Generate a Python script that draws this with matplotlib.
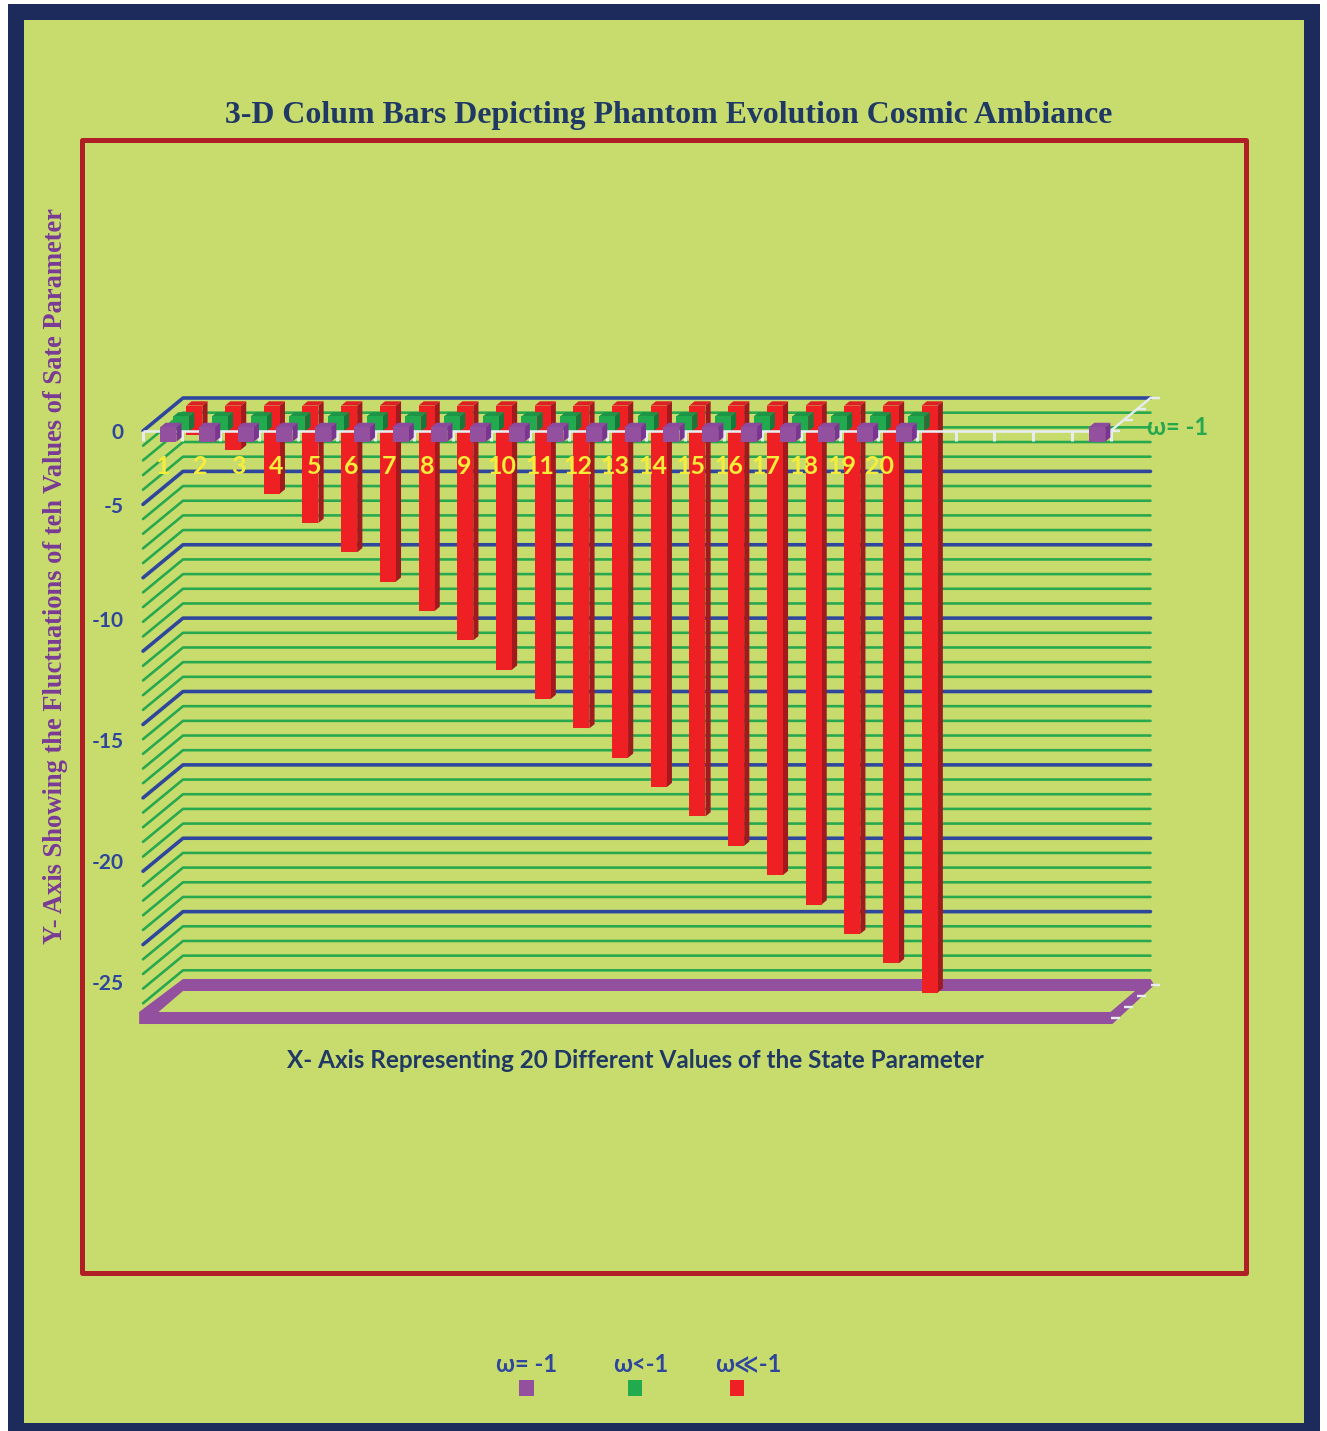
import matplotlib
matplotlib.use("Agg")
import matplotlib.pyplot as plt
from matplotlib.patches import Polygon, Rectangle

WIDTH, HEIGHT = 1327, 1431

# series values, one per category (None = no bar)
categories = list(range(1, 26))
purple_vals = [-1, -1, -1, -1, -1, -1, -1, -1, -1, -1,
               -1, -1, -1, -1, -1, -1, -1, -1, -1, -1,
               None, None, None, None, -1]
green_vals = [-1, -1, -1, -1, -1, -1, -1, -1, -1, -1,
              -1, -1, -1, -1, -1, -1, -1, -1, -1, -1,
              None, None, None, None, None]
red_vals = [-2, -3, -6, -8, -10, -12, -14, -16, -18, -20,
            -22, -24, -26, -28, -30, -32, -34, -36, -38, -40,
            None, None, None, None, None]

x_labels = [str(i) for i in range(1, 21)]
y_labels = ["0", "-5", "-10", "-15", "-20", "-25"]
y_label_px = [431, 505, 619, 740, 861, 982]
legend_names = ["\u03c9= -1", "\u03c9<-1", "\u03c9\u226a-1"]

BG = "#C8DC6E"
NAVY = "#1C2A5C"
FRAME_RED = "#B11F26"
TITLE_BLUE = "#1F3864"
BLUE = "#2E479C"
GREEN = "#27A84E"
WHITE = "#E6ECF0"
YELLOW = "#F6EC3A"
PURPLE_TXT = "#7A3A96"

PURPLE_C = ("#92509F", "#7A3590", "#8C4A9C")
GREEN_C = ("#21AB4E", "#16783A", "#1E9447")
RED_C = ("#EE2024", "#A01A1E", "#DD2024")

# pixel scale of the oblique projection
PX_PER_CAT = 38.7
PX_PER_UNIT = 14.675
ORIGIN_X, ORIGIN_Y = 143, 431
DEPTH_DX = 40 / PX_PER_CAT
DEPTH_DY = 33 / PX_PER_UNIT
BAR_W = 16 / PX_PER_CAT
BAR_D = 0.13
BAR_SHIFT = 1.2 / PX_PER_CAT
FLOOR = -40
N_CATS = 25


def proj(c, v, d=0.0):
    return c + d * DEPTH_DX, v + d * DEPTH_DY


def lw(px):
    return px * 72 / 100


def fx(px):
    return px / WIDTH


def fy(px):
    return 1 - px / HEIGHT


def draw_bar(ax, cat, val, depth, colors, z):
    front, side, top = colors
    c = cat - 0.5 + BAR_SHIFT
    l, r = c - BAR_W / 2, c + BAR_W / 2
    d2 = depth + BAR_D
    ax.add_patch(Polygon([proj(r, 0, depth), proj(r, val, depth), proj(r, val, d2), proj(r, 0, d2)],
                         fc=side, ec="none", zorder=z))
    ax.add_patch(Polygon([proj(l, 0, depth), proj(r, 0, depth), proj(r, 0, d2), proj(l, 0, d2)],
                         fc=top, ec="none", zorder=z))
    ax.add_patch(Polygon([proj(l, 0, depth), proj(r, 0, depth), proj(r, val, depth), proj(l, val, depth)],
                         fc=front, ec="none", zorder=z))


def draw_grid(ax):
    for v in range(0, FLOOR, -1):
        major = v % 5 == 0
        color = BLUE if major else GREEN
        width = 3.6 if major else 2.6
        pts = [proj(0, v, 0), proj(0, v, 1), proj(N_CATS, v, 1)]
        ax.plot([p[0] for p in pts], [p[1] for p in pts], color=color, lw=lw(width),
                solid_capstyle="round", solid_joinstyle="round", zorder=1)


def draw_floor(ax):
    # slab drawn as an outer ring with the panel colour filling its middle
    t = 0.41
    outer = [proj(-0.1, FLOOR - t, 0), proj(N_CATS + 0.05, FLOOR - t, 0), proj(N_CATS + 0.1, FLOOR, 1),
             proj(N_CATS, FLOOR + t, 1), proj(0, FLOOR + t, 1), proj(-0.1, FLOOR + t, 0)]
    inner = [proj(0.4, FLOOR + t, 0), proj(N_CATS, FLOOR + t, 0), proj(N_CATS - 0.4, FLOOR - t, 1),
             proj(0, FLOOR - t, 1)]
    ax.add_patch(Polygon(outer, fc=PURPLE_C[0], ec="none", zorder=2))
    ax.add_patch(Polygon(inner, fc=BG, ec="none", zorder=2))


def draw_axis_lines(ax):
    tick_len = 10 / PX_PER_UNIT
    dash_len = 9 / PX_PER_CAT
    ax.plot([0, N_CATS], [0, 0], color=WHITE, lw=lw(2.6), zorder=6, solid_capstyle="butt")
    a, b = proj(N_CATS, 0, 0), proj(N_CATS, 0, 1)
    ax.plot([a[0], b[0]], [a[1], b[1]], color=WHITE, lw=lw(2.4), zorder=6)
    for k in range(N_CATS + 1):
        ax.plot([k, k], [0, -tick_len], color=WHITE, lw=lw(3), zorder=6, solid_capstyle="butt")
    for v in (0, FLOOR):
        for d in (0, 1 / 3, 2 / 3, 1):
            x, y = proj(N_CATS, v, d)
            ax.plot([x, x + dash_len], [y, y], color=WHITE, lw=lw(2.4), zorder=6,
                    solid_capstyle="butt")


def main():
    plt.rcParams["font.family"] = ["Lato", "Noto Sans", "DejaVu Sans"]
    fig = plt.figure(figsize=(WIDTH / 100, HEIGHT / 100), dpi=100, facecolor="white")

    # outer border, panel and inner frame
    fig.patches.append(Rectangle((fx(8), fy(1431)), fx(1312), 1427 / HEIGHT,
                                 transform=fig.transFigure, fc=NAVY, ec="none", zorder=-3))
    fig.patches.append(Rectangle((fx(24), fy(1423)), fx(1280), 1403 / HEIGHT,
                                 transform=fig.transFigure, fc=BG, ec="none", zorder=-2))
    fig.patches.append(Rectangle((fx(82), fy(1273)), fx(1164), 1133 / HEIGHT,
                                 transform=fig.transFigure, fc="none", ec=FRAME_RED, lw=lw(5),
                                 joinstyle="round", zorder=-1))

    ax = fig.add_axes([0, 0, 1, 1])
    ax.set_xlim(-ORIGIN_X / PX_PER_CAT, (WIDTH - ORIGIN_X) / PX_PER_CAT)
    ax.set_ylim(-(HEIGHT - ORIGIN_Y) / PX_PER_UNIT, ORIGIN_Y / PX_PER_UNIT)
    ax.axis("off")

    draw_grid(ax)
    draw_floor(ax)

    for cat, val in zip(categories, red_vals):
        if val is not None:
            draw_bar(ax, cat, val, 0.77, RED_C, 3)
    for cat, val in zip(categories, green_vals):
        if val is not None:
            draw_bar(ax, cat, val, 0.44, GREEN_C, 4)
    draw_axis_lines(ax)
    for cat, val in zip(categories, purple_vals):
        if val is not None:
            draw_bar(ax, cat, val, 0.12, PURPLE_C, 7)

    # category numbers sit on their own slightly tighter spacing
    for i, label in enumerate(x_labels):
        fig.text(fx(163 + i * 37.7), fy(466), label, color=YELLOW, fontsize=18, fontweight="bold",
                 ha="center", va="center", zorder=10)
    for label, ypx in zip(y_labels, y_label_px):
        fig.text(fx(124), fy(ypx + 2), label, color=BLUE, fontsize=15, fontweight="bold",
                 ha="right", va="center", zorder=10)

    serif = ["Liberation Serif", "DejaVu Serif"]
    fig.text(fx(669), fy(116), "3-D Colum Bars Depicting Phantom Evolution Cosmic Ambiance",
             color=TITLE_BLUE, fontsize=22.95, fontweight="bold", family=serif, ha="center", va="center")
    fig.text(fx(56), fy(576), "Y- Axis Showing the Fluctuations of teh Values of Sate Parameter",
             color=PURPLE_TXT, fontsize=19.1, fontweight="bold", family=serif, rotation=90,
             ha="center", va="center")
    fig.text(fx(635), fy(1061), "X- Axis Representing 20 Different Values of the State Parameter",
             color=TITLE_BLUE, fontsize=17.5, fontweight="bold", ha="center", va="center")
    fig.text(fx(1178), fy(428), legend_names[0], color=GREEN, fontsize=17, fontweight="bold",
             ha="center", va="center")

    # legend
    legend_x = [527, 641, 748]
    swatch_x = [519, 628, 730]
    swatch_w = [15, 14, 14]
    swatch_c = [PURPLE_C[0], GREEN_C[0], RED_C[0]]
    for name, tx, sx, sw, col in zip(legend_names, legend_x, swatch_x, swatch_w, swatch_c):
        fig.text(fx(tx), fy(1364), name, color=BLUE, fontsize=17, fontweight="bold",
                 ha="center", va="center")
        fig.patches.append(Rectangle((fx(sx), fy(1396)), fx(sw), 16 / HEIGHT,
                                     transform=fig.transFigure, fc=col, ec="none", zorder=-1))

    fig.savefig("out.png", dpi=100)


if __name__ == "__main__":
    main()
